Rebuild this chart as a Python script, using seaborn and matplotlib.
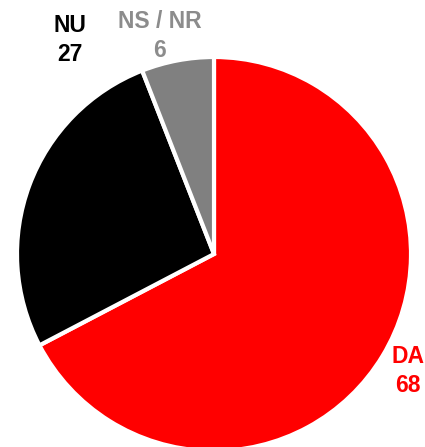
import matplotlib
matplotlib.use("Agg")
import matplotlib.pyplot as plt
import seaborn as sns

categories = ["DA", "NU", "NS / NR"]
values = [68, 27, 6]
colors = ["#ff0000", "#000000", "#808080"]
label_colors = ["#ff0000", "#000000", "#8c8c8c"]

sns.set_theme(style="white")
plt.rcParams['font.family'] = ['Liberation Sans', 'DejaVu Sans']

W, H = 425, 447
fig = plt.figure(figsize=(W / 100, H / 100), dpi=100)
ax = fig.add_axes([0, 0, 1, 1])
cx, cy, r = 214, 254, 197

ax.pie(values, colors=colors, startangle=90, counterclock=False,
       radius=1, wedgeprops=dict(edgecolor='white', linewidth=3))

ax.set_xlim(-cx / r, (W - cx) / r)
ax.set_ylim(-(H - cy) / r, cy / r)
ax.set_aspect('equal')
ax.axis('off')

# label positions in pixels (x, y of text center)
label_px = [(408, 371), (70, 40), (160, 36)]
for cat, val, col, (px, py) in zip(categories, values, label_colors, label_px):
    ax.text((px - cx) / r, (cy - py) / r, f"{cat}\n{val}", color=col,
            fontsize=16.5, fontweight='bold', ha='center', va='center',
            linespacing=1.3)

fig.savefig("out.png", dpi=100)
